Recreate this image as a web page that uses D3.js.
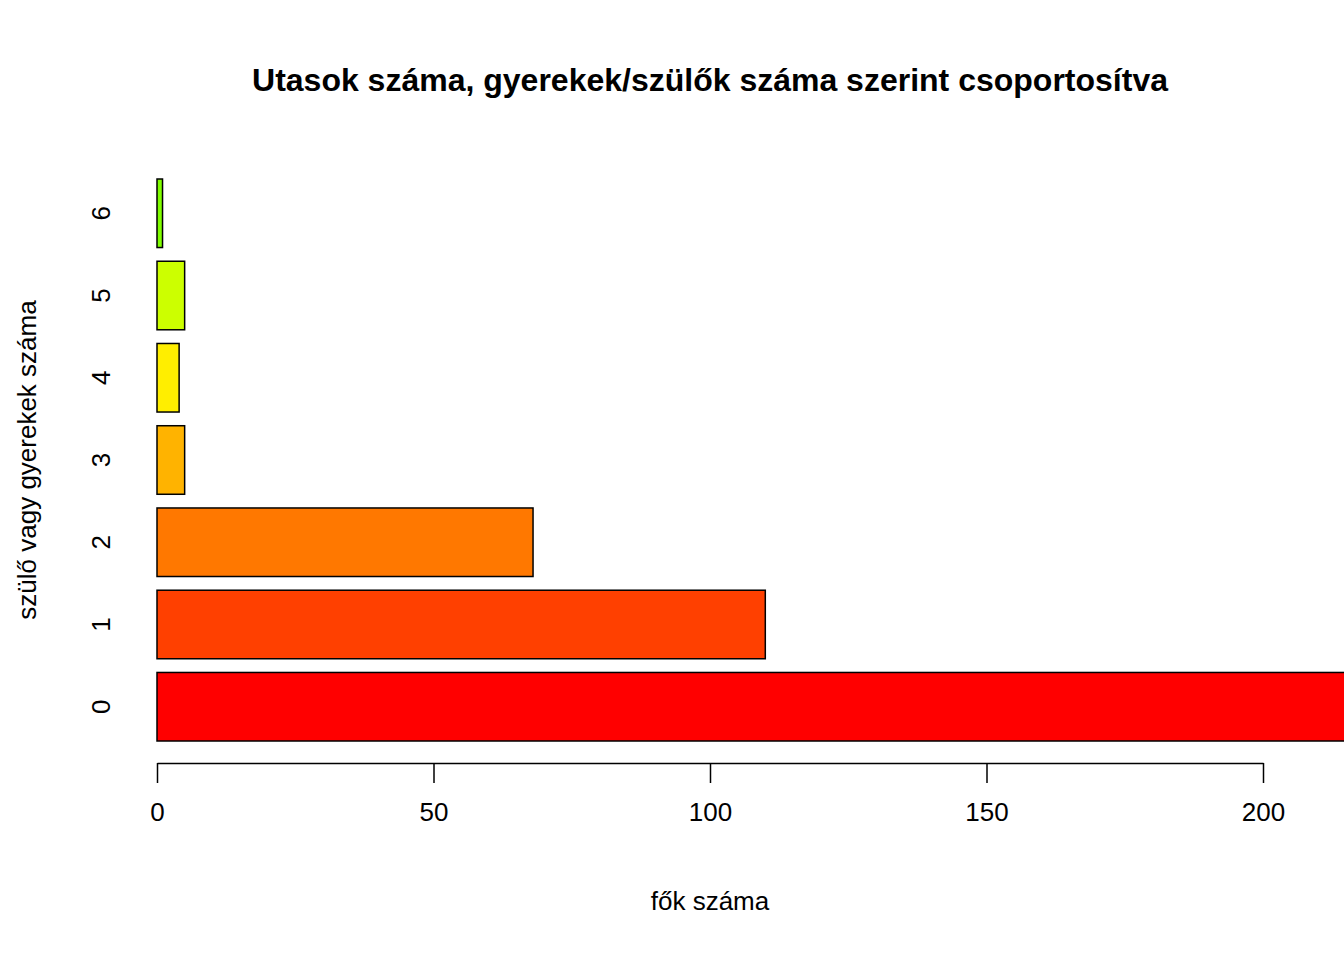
<!DOCTYPE html><html><head><meta charset="utf-8">
<script src="https://cdn.jsdelivr.net/npm/d3@7"></script>
<style>body{margin:0;background:#fff}text{font-family:Arial,"Liberation Sans",sans-serif}</style></head><body>
<script>
const categories=["0","1","2","3","4","5","6"];
const values=[240,110,68,5,4,5,1];
const colors=["#FF0000","#FF4000","#FF7800","#FFB300","#FFEE00","#CCFF00","#80FF00"];
const xTicks=[0,50,100,150,200];
const W=1344,H=960;
const svg=d3.select("body").append("svg").attr("width",W).attr("height",H);
const x=d3.scaleLinear().domain([0,200]).range([157,1263]);
const y=d3.scaleLinear().domain([0.2,8.4]).range([741,179]);
svg.selectAll("rect").data(values).enter().append("rect")
 .attr("x",x(0)).attr("width",d=>x(d)-x(0))
 .attr("y",(d,i)=>y(0.2+i*1.2+1)).attr("height",(d,i)=>y(0.2+i*1.2)-y(0.2+i*1.2+1))
 .attr("fill",(d,i)=>colors[i]).attr("stroke","#000").attr("stroke-width",1.5);
svg.selectAll(".cl").data(categories).enter().append("text")
 .attr("transform",(d,i)=>`translate(110,${y(0.2+i*1.2+0.5)}) rotate(-90)`)
 .attr("text-anchor","middle").attr("font-size",26).text(d=>d);
const ax=svg.append("g").attr("transform","translate(0,763)")
 .call(d3.axisBottom(x).tickValues(xTicks).tickSize(20).tickPadding(20).tickSizeOuter(0));
ax.select(".domain").attr("stroke-width",1.5);
ax.selectAll("line").attr("stroke-width",1.5);
ax.selectAll("text").attr("font-size",26).attr("font-family","Arial,'Liberation Sans',sans-serif");
svg.append("text").attr("x",710).attr("y",91).attr("text-anchor","middle").attr("font-size",32).attr("font-weight","bold").text("Utasok száma, gyerekek/szülők száma szerint csoportosítva");
svg.append("text").attr("x",710).attr("y",910).attr("text-anchor","middle").attr("font-size",26).text("fők száma");
svg.append("text").attr("transform","translate(36,460) rotate(-90)").attr("text-anchor","middle").attr("font-size",26).text("szülő vagy gyerekek száma");
</script></body></html>
